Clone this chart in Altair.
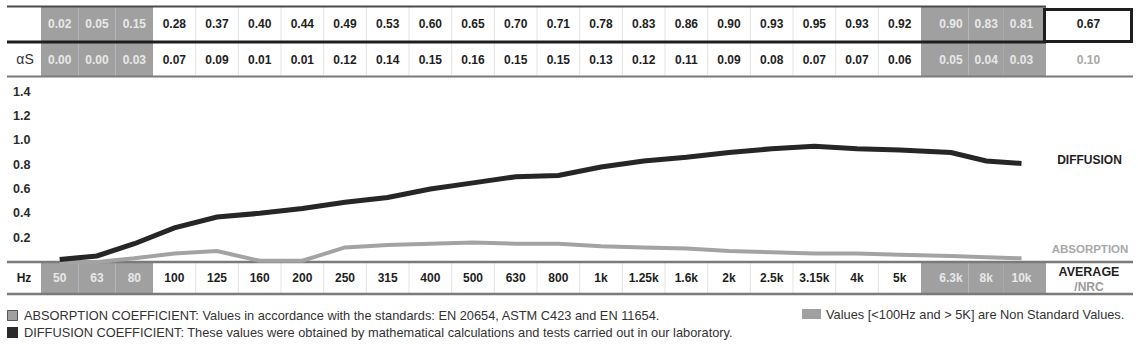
import altair as alt
import pandas as pd

# ---------------- data ----------------
freqs = ["50", "63", "80", "100", "125", "160", "200", "250", "315", "400", "500", "630",
         "800", "1k", "1.25k", "1.6k", "2k", "2.5k", "3.15k", "4k", "5k", "6.3k", "8k", "10k"]
diffusion = [0.02, 0.05, 0.15, 0.28, 0.37, 0.40, 0.44, 0.49, 0.53, 0.60, 0.65, 0.70,
             0.71, 0.78, 0.83, 0.86, 0.90, 0.93, 0.95, 0.93, 0.92, 0.90, 0.83, 0.81]
absorption = [0.00, 0.00, 0.03, 0.07, 0.09, 0.01, 0.01, 0.12, 0.14, 0.15, 0.16, 0.15,
              0.15, 0.13, 0.12, 0.11, 0.09, 0.08, 0.07, 0.07, 0.06, 0.05, 0.04, 0.03]
non_standard = [True] * 3 + [False] * 18 + [True] * 3
avg_diffusion = [0.67]
avg_absorption = [0.10]
y_ticks = [0.2, 0.4, 0.6, 0.8, 1.0, 1.2, 1.4]
row2_label = ["αS"]
hz_label = ["Hz"]
avg_label = ["AVERAGE"]
nrc_label = ["/NRC"]
series_labels = ["DIFFUSION", "ABSORPTION"]
legend_abs = ["ABSORPTION COEFFICIENT: Values in accordance with the standards: EN 20654, ASTM C423 and EN 11654."]
legend_diff = ["DIFFUSION COEFFICIENT: These values were obtained by mathematical calculations and tests carried out in our laboratory."]
legend_ns = ["Values [<100Hz and > 5K] are Non Standard Values."]

# ---------------- styling ----------------
FONT = "Liberation Sans, Arial, sans-serif"
NARROW = "Liberation Sans Narrow, Liberation Sans, Arial, sans-serif"
DARK = "#1e1e1e"
GRAY = "#a0a0a0"
LIGHT_TXT = "#e8e8e8"
RULE = "#7a7a7a"

df = pd.DataFrame({
    "idx": list(range(len(freqs))),
    "freq": freqs,
    "diff": diffusion,
    "abs": absorption,
    "ns": [int(v) for v in non_standard],
})

XS = alt.Scale(domain=[-1, 0, 3, 21, 21.5, 23.5, 24, 25],
               range=[7, 41, 153, 921, 951, 1021.5, 1046, 1133],
               nice=False, zero=False)
YS = alt.Scale(domain=[0, 1.528], range=[262, 76], nice=False, zero=False)

base = alt.Chart(df).transform_calculate(c="datum.idx + 0.5", e="datum.idx + 1")
xc = alt.X("c:Q", scale=XS, axis=None)
txt_color = alt.condition(alt.datum.ns == 1, alt.value(LIGHT_TXT), alt.value(DARK))


def one(text_list):
    return alt.Chart(pd.DataFrame({"t": text_list}))


def hrule(x1, x2, y, color, w):
    return one([""]).mark_rule(color=color, strokeWidth=w).encode(
        x=alt.value(x1), x2=alt.value(x2), y=alt.value(y))


# gray blocks for non standard columns
gray_top = base.transform_filter("datum.ns == 1").mark_rect(color=GRAY).encode(
    x=alt.X("idx:Q", scale=XS, axis=None), x2="e:Q", y=alt.value(6), y2=alt.value(76))
gray_hz = base.transform_filter("datum.ns == 1").mark_rect(color=GRAY).encode(
    x=alt.X("idx:Q", scale=XS, axis=None), x2="e:Q", y=alt.value(262), y2=alt.value(294))

# column separators
sep_filter = "datum.idx > 3 && datum.idx < 21"
sep_top = base.transform_filter(sep_filter).mark_rule(color="#e4e4e4", strokeWidth=1).encode(
    x=alt.X("idx:Q", scale=XS, axis=None), y=alt.value(7), y2=alt.value(76))
sep_hz = base.transform_filter(sep_filter).mark_rule(color="#e4e4e4", strokeWidth=1).encode(
    x=alt.X("idx:Q", scale=XS, axis=None), y=alt.value(263), y2=alt.value(294))

# horizontal rules
rules = [
    hrule(7, 1046, 6.5, "#4a4a4a", 2),
    hrule(7, 1046, 42, DARK, 3),
    hrule(7, 1133, 76.5, RULE, 2),
    hrule(7, 1133, 262, RULE, 2.5),
    hrule(7, 1133, 294, RULE, 2.5),
]

# average box
avg_box = one([""]).mark_rect(fill="white", stroke=DARK, strokeWidth=3).encode(
    x=alt.value(1044.5), x2=alt.value(1131.5), y=alt.value(9.5), y2=alt.value(41.5))

# table texts
top_vals = base.mark_text(font=FONT, fontSize=12, fontWeight="bold", baseline="middle").encode(
    x=xc, y=alt.value(24), text=alt.Text("diff:Q", format=".2f"), color=txt_color)
row2_vals = base.mark_text(font=FONT, fontSize=12, fontWeight="bold", baseline="middle").encode(
    x=xc, y=alt.value(60), text=alt.Text("abs:Q", format=".2f"), color=txt_color)
hz_vals = base.mark_text(font=FONT, fontSize=12, fontWeight="bold", baseline="middle").encode(
    x=xc, y=alt.value(278), text="freq:N", color=txt_color)

avg_top = one(avg_diffusion).mark_text(font=FONT, fontSize=12, fontWeight="bold",
                                       baseline="middle", color=DARK).encode(
    x=alt.value(1088.5), y=alt.value(24), text=alt.Text("t:Q", format=".2f"))
avg_row2 = one(avg_absorption).mark_text(font=FONT, fontSize=12, fontWeight="bold",
                                         baseline="middle", color="#a8a8a8").encode(
    x=alt.value(1088.5), y=alt.value(60), text=alt.Text("t:Q", format=".2f"))

lab_as = one(row2_label).mark_text(font=FONT, fontSize=14, baseline="middle", color="#333").encode(
    x=alt.value(25), y=alt.value(60), text="t:N")
lab_hz = one(hz_label).mark_text(font=FONT, fontSize=12, fontWeight="bold", baseline="middle",
                                 color=DARK).encode(x=alt.value(24), y=alt.value(278), text="t:N")
lab_avg = one(avg_label).mark_text(font=FONT, fontSize=12.5, fontWeight="bold", baseline="middle",
                                   color=DARK).encode(x=alt.value(1089), y=alt.value(272), text="t:N")
lab_nrc = one(nrc_label).mark_text(font=FONT, fontSize=12, fontWeight="bold", baseline="middle",
                                   color="#9a9a9a").encode(x=alt.value(1089), y=alt.value(287), text="t:N")

# y tick labels
yt = alt.Chart(pd.DataFrame({"v": y_ticks})).mark_text(
    font=FONT, fontSize=12.5, fontWeight="bold", align="left", baseline="middle", color="#2a2a2a"
).encode(x=alt.value(13), y=alt.Y("v:Q", scale=YS, axis=None), text=alt.Text("v:Q", format=".1f"))

# lines
abs_line = base.mark_line(color="#a3a3a3", strokeWidth=4, strokeCap="butt").encode(
    x=xc, y=alt.Y("abs:Q", scale=YS, axis=None))
diff_line = base.mark_line(color="#262626", strokeWidth=5, strokeCap="butt").encode(
    x=xc, y=alt.Y("diff:Q", scale=YS, axis=None))

lab_diff = one(series_labels[:1]).mark_text(font=FONT, fontSize=12, fontWeight="bold",
                                            baseline="middle", color=DARK).encode(
    x=alt.value(1089.5), y=alt.value(160), text="t:N")
lab_abs = one(series_labels[1:]).mark_text(font=FONT, fontSize=11.5, fontWeight="bold",
                                           baseline="middle", color="#a8a8a8").encode(
    x=alt.value(1090), y=alt.value(250), text="t:N")

# legend
LEG_SIZE = 12.8
sw_abs = one([""]).mark_rect(fill=GRAY, stroke="#555", strokeWidth=1).encode(
    x=alt.value(7.5), x2=alt.value(17.5), y=alt.value(310.5), y2=alt.value(320.5))
sw_diff = one([""]).mark_rect(fill="#2a2a2a").encode(
    x=alt.value(7), x2=alt.value(18), y=alt.value(327), y2=alt.value(338))
sw_ns = one([""]).mark_rect(fill=GRAY).encode(
    x=alt.value(802), x2=alt.value(821), y=alt.value(309), y2=alt.value(319))
leg1 = one(legend_abs).mark_text(font=NARROW, fontSize=LEG_SIZE, align="left", baseline="middle",
                                 color="#333").encode(x=alt.value(24), y=alt.value(315.5), text="t:N")
leg2 = one(legend_diff).mark_text(font=NARROW, fontSize=LEG_SIZE, align="left", baseline="middle",
                                  color="#333").encode(x=alt.value(24), y=alt.value(332.5), text="t:N")
leg3 = one(legend_ns).mark_text(font=NARROW, fontSize=LEG_SIZE, align="left", baseline="middle",
                                color="#333").encode(x=alt.value(826), y=alt.value(314.5), text="t:N")

chart = alt.layer(
    gray_top, gray_hz, sep_top, sep_hz, *rules, avg_box,
    top_vals, row2_vals, hz_vals, avg_top, avg_row2, lab_as, lab_hz, lab_avg, lab_nrc,
    yt, abs_line, diff_line, lab_diff, lab_abs,
    sw_abs, sw_diff, sw_ns, leg1, leg2, leg3,
).properties(
    width=1138, height=347,
    autosize=alt.AutoSizeParams(type="none"),
    padding=0, background="white",
).configure_view(stroke=None)

chart.save("out.html", embed_options={"renderer": "svg", "actions": False})
